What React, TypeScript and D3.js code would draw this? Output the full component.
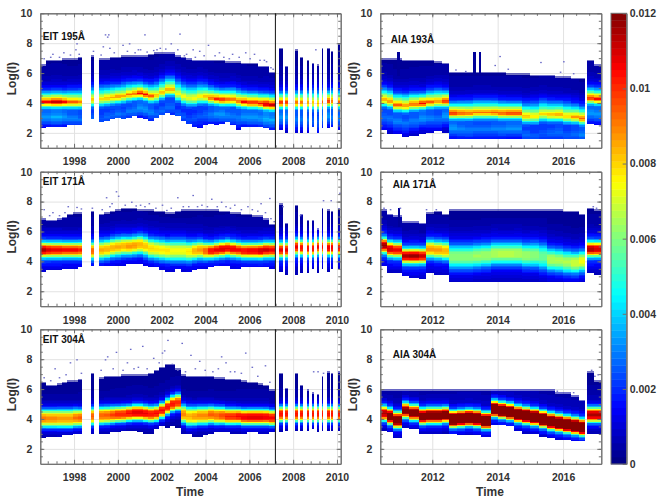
import React, { useRef, useEffect } from "react";
import * as d3 from "d3";

// column start / end years, EIT panels
const eitStart = [1996.46, 1996.7, 1996.95, 1997.2, 1997.45, 1997.7, 1997.95, 1998.2, 1998.76,
  1999.13, 1999.38, 1999.63, 1999.88, 2000.13, 2000.38, 2000.63, 2000.88, 2001.13, 2001.38, 2001.63, 2001.88,
  2002.13, 2002.38, 2002.63, 2002.88, 2003.13, 2003.38, 2003.63, 2003.88, 2004.13, 2004.38, 2004.63, 2004.88,
  2005.13, 2005.38, 2005.63, 2005.88, 2006.13, 2006.38, 2006.63, 2006.88,
  2007.36, 2007.62, 2008.09, 2008.33, 2008.64, 2008.88, 2009.11, 2009.31, 2009.54, 2009.75, 2010.05];
const eitEnd = [1996.7, 1996.95, 1997.2, 1997.45, 1997.7, 1997.95, 1998.2, 1998.38, 1998.91,
  1999.38, 1999.63, 1999.88, 2000.13, 2000.38, 2000.63, 2000.88, 2001.13, 2001.38, 2001.63, 2001.88, 2002.13,
  2002.38, 2002.63, 2002.88, 2003.13, 2003.38, 2003.63, 2003.88, 2004.13, 2004.38, 2004.63, 2004.88, 2005.13,
  2005.38, 2005.63, 2005.88, 2006.13, 2006.38, 2006.63, 2006.88, 2007.18,
  2007.53, 2007.76, 2008.21, 2008.46, 2008.72, 2008.94, 2009.19, 2009.37, 2009.69, 2009.84, 2010.16];

// column start / end years, AIA panels
const aiaStart = [2010.41, 2010.6, 2010.8, 2011.07, 2011.3, 2011.59, 2011.8, 2012.05, 2012.3,
  2012.51, 2012.75, 2013.0, 2013.25, 2013.5, 2013.8, 2014.0, 2014.25, 2014.5, 2014.75, 2015.0, 2015.25, 2015.5, 2015.75, 2016.0, 2016.25, 2016.5,
  2016.73, 2016.95];
const aiaEnd = [2010.6, 2010.8, 2011.07, 2011.3, 2011.59, 2011.8, 2012.05, 2012.3, 2012.51,
  2012.75, 2013.0, 2013.25, 2013.5, 2013.8, 2014.0, 2014.25, 2014.5, 2014.75, 2015.0, 2015.25, 2015.5, 2015.75, 2016.0, 2016.25, 2016.5, 2016.67,
  2016.95, 2017.15];

// EIT 195
const eit195Top = [6.6, 6.9, 6.9, 6.9, 7.0, 7.0, 7.0, 7.1, 7.2,
  7.0, 7.0, 7.1, 7.1, 7.2, 7.2, 7.2, 7.2, 7.2, 7.3, 7.4, 7.4, 7.4, 7.4, 7.2, 7.1,
  7.0, 6.9, 6.9, 6.9, 6.9, 6.9, 6.9, 6.8, 6.8, 6.8, 6.7, 6.7, 6.7, 6.5, 6.5, 6.1,
  7.7, 6.5, 7.6, 7.1, 6.9, 6.7, 6.6, 7.7, 7.7, 7.5, 8.0];
const eit195Bottom = [2.3, 2.35, 2.4, 2.4, 2.4, 2.5, 2.5, 2.5, 2.9,
  2.7, 2.8, 2.9, 3.0, 2.9, 3.0, 3.1, 3.0, 2.9, 2.8, 3.0, 3.2, 3.3, 3.2, 3.1, 2.8,
  2.6, 2.4, 2.3, 2.5, 2.6, 2.5, 2.6, 2.7, 2.5, 2.2, 2.4, 2.4, 2.4, 2.4, 2.3, 2.2,
  2.2, 2.0, 2.0, 2.0, 2.0, 2.4, 2.0, 2.3, 2.3, 2.4, 2.2];
const eit195Center = [4.05, 4.05, 4.05, 4.05, 4.05, 4.05, 4.05, 4.05, 4.2,
  4.25, 4.3, 4.35, 4.4, 4.45, 4.55, 4.6, 4.65, 4.55, 4.45, 4.5, 4.7, 4.9, 4.9, 4.6, 4.4,
  4.3, 4.3, 4.4, 4.4, 4.3, 4.25, 4.2, 4.2, 4.2, 4.1, 4.05, 4.0, 4.0, 3.95, 3.9, 3.85,
  4.0, 4.0, 4.0, 4.0, 4.0, 4.0, 3.95, 4.05, 4.1, 4.1, 4.05];
const eit195Peak = [0.0105, 0.0105, 0.0112, 0.0112, 0.0105, 0.0095, 0.0095, 0.009, 0.0085,
  0.008, 0.0085, 0.0085, 0.009, 0.0085, 0.0092, 0.0095, 0.0105, 0.0105, 0.0095, 0.0085, 0.0085, 0.0088, 0.0088, 0.0078, 0.0078,
  0.0075, 0.0078, 0.008, 0.0085, 0.0095, 0.0102, 0.0105, 0.0098, 0.0095, 0.0095, 0.0105, 0.0105, 0.0105, 0.0105, 0.0115, 0.0112,
  0.0105, 0.0105, 0.0095, 0.0095, 0.009, 0.0085, 0.0085, 0.0095, 0.0105, 0.0095, 0.0095];
const eit195Specks = [[1999.4, 8.6], [1999.55, 8.6], [1999.5, 8.45], [1999.3, 7.8], [1999.6, 7.7], [2000.2, 7.9], [2000.5, 8.0], [2001.2, 8.6], [2001.0, 7.6],
  [2002.4, 8.0], [2002.8, 8.65], [2004.1, 7.9], [2003.4, 7.6], [1998.1, 8.0], [1997.0, 7.3], [1997.5, 7.4], [2001.9, 7.7], [2002.7, 7.6], [2005.2, 7.3],
  [2006.2, 7.3], [2005.8, 7.4], [2004.6, 7.4], [2003.7, 7.5], [2000.9, 7.6], [2009.0, 7.6], [1998.85, 7.5], [1998.05, 7.6], [2006.65, 6.9], [2003.1, 7.3], [2001.6, 7.55],
  [1996.6, 7.0], [1996.9, 7.1], [1997.3, 7.1], [1997.8, 7.25], [1998.2, 7.3], [1999.2, 7.25], [1999.8, 7.4], [2000.4, 7.5], [2000.75, 7.4], [2001.3, 7.45],
  [2001.75, 7.6], [2002.15, 7.65], [2002.5, 7.4], [2003.0, 7.2], [2003.5, 7.1], [2003.9, 7.2], [2004.4, 7.2], [2004.8, 7.1], [2005.05, 7.0], [2005.5, 7.1],
  [2006.0, 7.0], [2006.45, 6.9], [2006.75, 6.8], [2006.95, 6.4], [2007.05, 6.3]];

// EIT 171
const eit171Top = [6.9, 6.8, 6.8, 6.9, 7.0, 7.2, 7.3, 7.3, 7.4,
  7.2, 7.3, 7.4, 7.5, 7.6, 7.6, 7.6, 7.5, 7.5, 7.5, 7.4, 7.4, 7.3, 7.3, 7.4, 7.5,
  7.5, 7.5, 7.5, 7.5, 7.5, 7.5, 7.4, 7.4, 7.3, 7.3, 7.2, 7.2, 7.1, 7.1, 6.9, 6.5,
  7.9, 6.6, 7.8, 7.2, 6.8, 6.8, 6.2, 7.6, 7.5, 7.4, 7.6];
const eit171Bottom = [3.3, 3.4, 3.4, 3.4, 3.5, 3.5, 3.55, 3.6, 3.7,
  3.7, 3.7, 3.7, 3.7, 3.7, 3.8, 3.8, 3.8, 3.7, 3.6, 3.6, 3.4, 3.3, 3.3, 3.5, 3.3,
  3.3, 3.4, 3.5, 3.5, 3.6, 3.65, 3.7, 3.65, 3.45, 3.5, 3.6, 3.6, 3.6, 3.6, 3.6, 3.5,
  3.25, 3.1, 3.1, 3.2, 3.2, 3.5, 3.2, 3.5, 3.3, 3.5, 3.5];
const eit171Center = [4.75, 4.75, 4.75, 4.75, 4.75, 4.75, 4.75, 4.75, 4.7,
  4.75, 4.8, 4.9, 4.95, 5.0, 5.0, 5.05, 5.1, 5.0, 4.85, 4.8, 4.75, 4.7, 4.7, 4.7, 4.7,
  4.65, 4.7, 4.75, 4.7, 4.7, 4.75, 4.8, 4.85, 4.8, 4.75, 4.7, 4.7, 4.7, 4.7, 4.75, 4.75,
  4.75, 4.75, 4.95, 4.9, 4.85, 4.85, 4.95, 4.95, 4.9, 4.9, 4.9];
const eit171Peak = [0.0115, 0.011, 0.0108, 0.0108, 0.0105, 0.0105, 0.0105, 0.0102, 0.0095,
  0.0085, 0.0085, 0.0085, 0.0085, 0.0085, 0.0088, 0.0088, 0.0085, 0.0082, 0.008, 0.0078, 0.0078, 0.0078, 0.0075, 0.0075, 0.0075,
  0.0078, 0.0085, 0.0088, 0.0095, 0.0105, 0.0108, 0.011, 0.0108, 0.0108, 0.0105, 0.0105, 0.0108, 0.0108, 0.0112, 0.0112, 0.0108,
  0.0108, 0.0108, 0.0108, 0.0105, 0.0105, 0.0105, 0.0105, 0.0105, 0.0108, 0.0108, 0.0105];
const eit171Specks = [[2000.0, 8.4], [1999.9, 8.7], [1999.45, 8.3], [1999.7, 7.9], [2000.6, 8.0], [2001.4, 7.9], [2002.0, 7.8], [2002.7, 8.3], [2003.4, 8.45],
  [2004.25, 8.2], [2004.7, 8.0], [2006.9, 8.25], [2006.5, 7.9], [1997.7, 7.7], [1998.1, 7.65], [1997.0, 7.3], [2009.35, 8.1], [2010.1, 8.6], [2009.7, 8.1],
  [2003.8, 7.8], [2005.3, 7.8], [2005.9, 7.7], [2008.3, 7.1], [2001.0, 7.8], [1998.8, 7.6], [2007.5, 7.7], [2004.9, 7.7], [2002.4, 7.6],
  [1996.6, 7.5], [1996.85, 7.1], [1997.3, 7.1], [1997.55, 7.3], [1998.3, 7.55], [1999.25, 7.5], [1999.6, 7.7], [2000.3, 7.8], [2000.8, 7.75], [2001.2, 7.7],
  [2001.7, 7.6], [2002.2, 7.45], [2002.95, 7.7], [2003.2, 7.7], [2003.6, 7.7], [2004.05, 7.7], [2004.5, 7.7], [2005.1, 7.6], [2005.6, 7.5], [2006.1, 7.5],
  [2006.35, 7.4], [2006.7, 7.3], [2006.95, 6.9], [2007.1, 6.7]];

// EIT 304
const eit304Top = [6.5, 6.3, 6.3, 6.4, 6.5, 6.6, 6.6, 6.7, 7.1,
  6.8, 6.9, 6.9, 6.9, 7.0, 7.0, 7.0, 7.0, 7.0, 7.1, 7.3, 7.5, 7.7, 7.7, 7.4, 7.0,
  6.9, 6.9, 6.9, 6.9, 6.9, 6.8, 6.8, 6.7, 6.7, 6.7, 6.6, 6.5, 6.5, 6.4, 6.3, 6.0,
  7.1, 6.1, 7.1, 6.3, 6.0, 5.8, 5.7, 6.9, 7.2, 7.1, 7.2];
const eit304Bottom = [2.7, 2.8, 2.8, 2.8, 2.9, 2.9, 3.0, 3.0, 3.0,
  3.0, 3.05, 3.1, 3.15, 3.2, 3.2, 3.2, 3.1, 3.05, 3.05, 3.3, 3.5, 3.4, 3.5, 3.4, 3.0,
  3.0, 2.8, 2.8, 2.9, 3.0, 3.1, 3.1, 3.1, 3.0, 3.0, 3.0, 3.1, 3.1, 3.05, 3.05, 3.1,
  3.15, 3.2, 3.2, 3.2, 3.2, 3.3, 3.1, 3.2, 3.2, 3.2, 3.2];
const eit304Center = [4.0, 4.0, 4.0, 4.0, 4.0, 4.0, 4.05, 4.05, 4.15,
  4.2, 4.22, 4.25, 4.28, 4.3, 4.35, 4.4, 4.4, 4.35, 4.3, 4.35, 4.55, 4.8, 5.0, 5.1, 4.3,
  4.15, 4.15, 4.2, 4.2, 4.25, 4.2, 4.2, 4.15, 4.15, 4.15, 4.1, 4.1, 4.1, 4.1, 4.1, 4.05,
  4.3, 4.3, 4.3, 4.3, 4.3, 4.3, 4.3, 4.3, 4.3, 4.3, 4.3];
const eit304Peak = [0.0092, 0.009, 0.009, 0.0088, 0.0088, 0.0088, 0.0092, 0.0095, 0.0095,
  0.0095, 0.0095, 0.0098, 0.0102, 0.0102, 0.0105, 0.011, 0.011, 0.0108, 0.0105, 0.0105, 0.0105, 0.0105, 0.0105, 0.0102, 0.009,
  0.0085, 0.0088, 0.009, 0.009, 0.0095, 0.0095, 0.0098, 0.0102, 0.0102, 0.0105, 0.0108, 0.011, 0.011, 0.011, 0.0108, 0.0105,
  0.0105, 0.0105, 0.0105, 0.0105, 0.0105, 0.0105, 0.0105, 0.0105, 0.0105, 0.0105, 0.0105];
const eit304Specks = [[2001.1, 8.9], [2000.55, 8.7], [1999.9, 8.5], [2000.4, 7.8], [2002.25, 9.3], [2002.9, 9.1], [2002.1, 8.6], [2002.0, 8.45], [1999.5, 8.2],
  [1999.4, 8.0], [2003.3, 8.3], [2004.7, 8.2], [2005.8, 8.45], [1998.1, 8.0], [1997.8, 7.8], [1997.1, 7.4], [1996.6, 6.8], [2003.7, 7.9], [2004.9, 7.8],
  [2006.7, 7.6], [2006.1, 7.5], [2005.3, 7.2], [2009.1, 7.2], [2001.6, 8.1], [2000.9, 7.5], [2008.9, 7.2], [2009.35, 7.1],
  [1996.9, 6.6], [1997.3, 6.8], [1997.6, 7.0], [1998.3, 7.1], [1999.2, 7.3], [1999.75, 7.4], [2000.2, 7.3], [2000.7, 7.4], [2001.3, 7.4], [2001.85, 7.8],
  [2002.45, 7.7], [2002.7, 7.3], [2003.05, 7.2], [2003.5, 7.4], [2003.95, 7.3], [2004.3, 7.2], [2004.55, 7.4], [2005.1, 7.2], [2005.6, 7.1], [2006.35, 6.9], [2006.9, 6.5]];

// AIA 193
const aia193Top = [7.0, 7.0, 7.0, 6.9, 6.9, 6.9, 6.9, 6.8, 6.7,
  6.1, 6.1, 6.1, 6.1, 6.1, 6.1, 6.1, 6.0, 6.0, 6.0, 5.9, 5.9, 5.9, 5.8, 5.8, 5.7, 5.7, 6.9, 6.6];
const aia193Bottom = [2.2, 1.9, 1.9, 1.7, 1.8, 1.9, 2.0, 2.1, 2.0,
  1.6, 1.6, 1.6, 1.6, 1.6, 1.6, 1.6, 1.6, 1.6, 1.6, 1.6, 1.6, 1.6, 1.6, 1.6, 1.6, 1.6, 2.6, 2.5];
const aia193Center = [4.2, 4.1, 3.85, 3.8, 3.9, 3.95, 4.05, 4.1, 4.1,
  3.3, 3.3, 3.3, 3.35, 3.35, 3.35, 3.3, 3.3, 3.3, 3.1, 3.1, 3.25, 3.2, 3.2, 3.1, 3.05, 2.95, 4.3, 4.25];
const aia193Peak = [0.0088, 0.009, 0.0095, 0.009, 0.0095, 0.0105, 0.0095, 0.009, 0.0105,
  0.0105, 0.0098, 0.0095, 0.0092, 0.0092, 0.0095, 0.0098, 0.0102, 0.0102, 0.0085, 0.008, 0.008, 0.0085, 0.0088, 0.0082, 0.0088, 0.0095, 0.0105, 0.0105];
const aia193Specks = [[2014.05, 7.15], [2015.3, 6.75], [2016.0, 6.8], [2013.9, 6.55], [2014.3, 6.3], [2012.7, 6.25], [2015.9, 6.1], [2016.3, 6.0], [2013.0, 6.15]];
// single tall columns that stick out above the top edge: start, end, top
const aia193Spikes = [[2010.92, 2011.0, 7.4], [2013.25, 2013.34, 7.4], [2013.42, 2013.48, 7.4]];

// AIA 171
const aia171Top = [7.5, 7.2, 7.1, 6.7, 6.7, 6.6, 7.3, 7.4, 7.2,
  7.5, 7.5, 7.5, 7.5, 7.5, 7.5, 7.5, 7.5, 7.5, 7.5, 7.5, 7.5, 7.5, 7.5, 7.4, 7.4, 7.2, 7.6, 7.5];
const aia171Bottom = [3.7, 3.2, 3.2, 3.0, 2.9, 2.8, 3.2, 3.1, 3.1,
  2.6, 2.6, 2.6, 2.6, 2.6, 2.6, 2.6, 2.6, 2.6, 2.6, 2.6, 2.6, 2.6, 2.6, 2.6, 2.6, 2.6, 3.2, 3.1];
const aia171Center = [5.05, 4.8, 4.75, 4.35, 4.35, 4.35, 4.8, 4.75, 4.7,
  4.3, 4.3, 4.3, 4.35, 4.4, 4.5, 4.5, 4.5, 4.5, 4.4, 4.4, 4.3, 4.1, 4.05, 3.95, 3.9, 4.0, 4.8, 4.8];
const aia171Peak = [0.0118, 0.0112, 0.0108, 0.0115, 0.0118, 0.0112, 0.0088, 0.0088, 0.0085,
  0.0062, 0.0062, 0.0062, 0.0064, 0.0064, 0.0066, 0.0068, 0.0068, 0.0066, 0.0064, 0.0062, 0.0058, 0.0066, 0.0066, 0.0066, 0.007, 0.0074, 0.0115, 0.0112];
const aia171Specks = [[2010.5, 7.6], [2010.7, 7.5], [2011.0, 7.6], [2011.8, 7.5], [2012.1, 7.5], [2016.9, 7.7], [2017.0, 7.6]];
const aia171Spikes = [[2010.95, 2011.02, 7.6]];

// AIA 304
const aia304Top = [6, 6, 6, 6, 6, 6, 6, 6, 6,
  6, 6, 6, 6, 6, 6, 6, 6, 6, 6, 6, 6, 5.95, 5.85, 5.75, 5.6, 5.3, 7.2, 6.6];
const aia304Bottom = [3.2, 3.15, 2.7, 3.4, 3.3, 3.0, 3.05, 3.0, 3.0,
  2.95, 2.85, 2.85, 2.85, 2.75, 3.6, 3.6, 3.45, 3.2, 3.05, 2.95, 2.8, 2.7, 2.65, 2.6, 2.55, 2.45, 3.0, 3.0];
const aia304Center = [4.35, 4.15, 3.9, 4.55, 4.4, 4.15, 4.2, 4.2, 4.25,
  3.95, 4.0, 4.05, 4.0, 3.85, 4.65, 4.55, 4.45, 4.3, 4.2, 4.1, 3.95, 3.8, 3.7, 3.6, 3.5, 3.4, 4.25, 4.25];
const aia304Peak = [0.0115, 0.0135, 0.0135, 0.0125, 0.013, 0.0135, 0.0135, 0.0135, 0.013,
  0.0155, 0.0155, 0.0155, 0.0155, 0.0155, 0.0155, 0.0155, 0.0155, 0.0155, 0.0155, 0.0155, 0.0155, 0.0155, 0.0155, 0.0155, 0.0155, 0.0155, 0.0115, 0.0115];
const aia304Specks = [[2016.85, 7.3], [2017.05, 7.0], [2016.95, 6.9], [2016.3, 5.8], [2015.8, 5.9]];

// vertical density shape around the peak: log offset -> share of the peak
const shapeOffset195 = [-2.6, -1.8, -1.4, -1.0, -0.7, -0.5, -0.33, -0.18, 0, 0.2, 0.4, 0.6, 0.85, 1.2, 1.6, 2.2, 3.6];
const shapeShare195 = [0.04, 0.1, 0.22, 0.32, 0.26, 0.27, 0.45, 0.74, 1, 0.78, 0.58, 0.38, 0.2, 0.1, 0.06, 0.04, 0.02];
const shapeOffset171 = [-1.6, -1.0, -0.75, -0.5, -0.3, -0.15, 0, 0.15, 0.3, 0.5, 0.75, 1.1, 1.6, 3];
const shapeShare171 = [0.06, 0.14, 0.2, 0.42, 0.76, 0.95, 1, 0.95, 0.76, 0.42, 0.2, 0.1, 0.05, 0.02];
const shapeOffset304 = [-1.6, -1.1, -0.8, -0.6, -0.4, -0.2, 0, 0.2, 0.4, 0.6, 0.8, 1.1, 1.5, 3];
const shapeShare304 = [0.03, 0.06, 0.12, 0.24, 0.6, 0.92, 1, 0.93, 0.65, 0.32, 0.14, 0.06, 0.04, 0.02];

const eitMajorYears = [1998, 2000, 2002, 2004, 2006, 2008, 2010];
const aiaMajorYears = [2012, 2014, 2016];
const yMajor = [2, 4, 6, 8, 10];
const instrumentChange = 2007.19;

const colorbarTicks = [0, 0.002, 0.004, 0.006, 0.008, 0.01, 0.012];
const colorbarLabels = ["0", "0.002", "0.004", "0.006", "0.008", "0.01", "0.012"];
const jetStops = [0, 0.0015, 0.0045, 0.0075, 0.0105, 0.012];
const jetColors = ["#00007f", "#0000ff", "#00ffff", "#ffff00", "#ff0000", "#7f0000"];

const panels = [
  { title: "EIT 195Å", group: "eit", row: 0, xlabel: false, titleDx: 2.5, titleDy: 27, top: eit195Top, bottom: eit195Bottom, center: eit195Center, peak: eit195Peak, specks: eit195Specks, spikes: [], offset: shapeOffset195, share: shapeShare195 },
  { title: "EIT 171Å", group: "eit", row: 1, xlabel: false, titleDx: 2.5, titleDy: 13.7, top: eit171Top, bottom: eit171Bottom, center: eit171Center, peak: eit171Peak, specks: eit171Specks, spikes: [], offset: shapeOffset171, share: shapeShare171 },
  { title: "EIT 304Å", group: "eit", row: 2, xlabel: true, titleDx: 2.5, titleDy: 13.4, top: eit304Top, bottom: eit304Bottom, center: eit304Center, peak: eit304Peak, specks: eit304Specks, spikes: [], offset: shapeOffset304, share: shapeShare304 },
  { title: "AIA 193Å", group: "aia", row: 0, xlabel: false, titleDx: 10.5, titleDy: 30, top: aia193Top, bottom: aia193Bottom, center: aia193Center, peak: aia193Peak, specks: aia193Specks, spikes: aia193Spikes, offset: shapeOffset195, share: shapeShare195 },
  { title: "AIA 171Å", group: "aia", row: 1, xlabel: false, titleDx: 12.5, titleDy: 16.6, top: aia171Top, bottom: aia171Bottom, center: aia171Center, peak: aia171Peak, specks: aia171Specks, spikes: aia171Spikes, offset: shapeOffset171, share: shapeShare171 },
  { title: "AIA 304Å", group: "aia", row: 2, xlabel: true, titleDx: 12.5, titleDy: 29, top: aia304Top, bottom: aia304Bottom, center: aia304Center, peak: aia304Peak, specks: aia304Specks, spikes: [], offset: shapeOffset304, share: shapeShare304 },
];

export default function App() {
  const svgRef = useRef<SVGSVGElement>(null);

  useEffect(() => {
    const svg = d3.select(svgRef.current);
    svg.selectAll("*").remove();

    const font = "'Liberation Sans', Arial, sans-serif";
    const frame = "#6f6f6f";
    const ink = "#333";
    const rowTop = [13.3, 171.7, 329.3];
    const panelH = 134.5;
    const binH = 0.1;

    const jet = d3.scaleLinear<string>().domain(jetStops).range(jetColors).clamp(true);
    // colourbar has 64 flat levels
    const level = (v: number) => jet((Math.min(Math.floor((v / 0.012) * 64), 63) + 0.5) * (0.012 / 64));

    const blur = svg.append("defs").append("filter").attr("id", "soft")
      .attr("x", "-2%").attr("y", "-2%").attr("width", "104%").attr("height", "104%");
    blur.append("feGaussianBlur").attr("stdDeviation", "0.55 0.4");

    panels.forEach((p) => {
      const isEit = p.group === "eit";
      const x0 = isEit ? 40.3 : 380.3;
      const x1 = isEit ? 340.7 : 601.3;
      const w = x1 - x0;
      const g = svg.append("g").attr("transform", `translate(${x0},${rowTop[p.row]})`);

      const x = d3.scaleLinear().domain(isEit ? [1996.46, 2010.17] : [2010.41, 2017.17]).range([0, w]);
      const y = d3.scaleLinear().domain([1, 10]).range([panelH, 0]);
      const starts = isEit ? eitStart : aiaStart;
      const ends = isEit ? eitEnd : aiaEnd;
      const majors = isEit ? eitMajorYears : aiaMajorYears;
      const minors = isEit ? d3.range(1996.8, 2010.2, 0.4) : d3.range(2010.8, 2017.17, 0.4);
      const yMinor = d3.range(1.5, 10, 0.5);

      // Grid
      g.append("g").attr("transform", `translate(0,${panelH})`)
        .call(d3.axisBottom(x).tickValues(majors).tickSize(-panelH).tickFormat(() => ""))
        .call((a) => a.select(".domain").remove())
        .selectAll("line").attr("stroke", "#e2e2e2");
      g.append("g")
        .call(d3.axisLeft(y).tickValues(yMajor).tickSize(-w).tickFormat(() => ""))
        .call((a) => a.select(".domain").remove())
        .selectAll("line").attr("stroke", "#e2e2e2");

      // Density cells
      const shape = d3.scaleLinear().domain(p.offset).range(p.share).clamp(true);
      const cells = g.append("g").attr("filter", "url(#soft)").attr("shape-rendering", "crispEdges");
      starts.forEach((s, c) => {
        const spread = Math.max(1, 0.0105 / p.peak[c]);
        const rows = d3.range(Math.round(p.bottom[c] / binH), Math.round(p.top[c] / binH));
        rows.forEach((r, k) => {
          const logI = r * binH;
          const v = p.peak[c] * shape((logI + binH / 2 - p.center[c]) / spread);
          cells.append("rect")
            .attr("x", x(s))
            .attr("width", x(ends[c]) - x(s))
            .attr("y", y(logI + binH))
            .attr("height", y(logI) - y(logI + binH))
            .attr("fill", level(v))
            .attr("opacity", k === rows.length - 1 ? 0.55 : 1);
        });
      });
      p.spikes.forEach((sp) => {
        cells.append("rect")
          .attr("x", x(sp[0]))
          .attr("width", x(sp[1]) - x(sp[0]))
          .attr("y", y(sp[2]))
          .attr("height", y(p.top[0] - 1.2) - y(sp[2]))
          .attr("fill", "#00009a");
      });
      g.selectAll(".speck").data(p.specks).join("rect").attr("class", "speck")
        .attr("x", (d) => x(d[0]))
        .attr("y", (d) => y(d[1]))
        .attr("width", 1.6)
        .attr("height", 1.3)
        .attr("fill", "#6a6ac8");

      // Inward ticks on all four sides
      const inward = (a: any, len: number) => a.tickSizeInner(-len).tickSizeOuter(0).tickFormat(() => "");
      const styleTicks = (sel: any) => {
        sel.select(".domain").attr("stroke", frame);
        sel.selectAll("line").attr("stroke", frame);
      };
      [[minors, 2.5], [majors, 4]].forEach(([vals, len]: any) => {
        g.append("g").attr("transform", `translate(0,${panelH})`).call(inward(d3.axisBottom(x).tickValues(vals), len)).call(styleTicks);
        g.append("g").call(inward(d3.axisTop(x).tickValues(vals), len)).call(styleTicks);
      });
      [[yMinor, 2.5], [yMajor, 4]].forEach(([vals, len]: any) => {
        g.append("g").call(inward(d3.axisLeft(y).tickValues(vals), len)).call(styleTicks);
        g.append("g").attr("transform", `translate(${w},0)`).call(inward(d3.axisRight(y).tickValues(vals), len)).call(styleTicks);
      });

      // Tick labels
      const labelX = g.append("g").attr("transform", `translate(0,${panelH})`)
        .call(d3.axisBottom(x).tickValues(majors).tickSize(0).tickPadding(10).tickFormat(d3.format("d")));
      labelX.select(".domain").remove();
      const labelY = g.append("g")
        .call(d3.axisLeft(y).tickValues(yMajor).tickSize(0).tickPadding(8).tickFormat(d3.format("d")));
      labelY.select(".domain").remove();
      [labelX, labelY].forEach((l) => l.selectAll("text")
        .attr("font-family", font).attr("font-size", 10.5).attr("font-weight", "bold").attr("fill", ink));

      if (isEit) {
        g.append("line")
          .attr("x1", x(instrumentChange)).attr("x2", x(instrumentChange))
          .attr("y1", 0).attr("y2", panelH)
          .attr("stroke", "#111").attr("stroke-width", 1);
      }

      g.append("text")
        .attr("x", p.titleDx).attr("y", p.titleDy)
        .attr("font-family", font).attr("font-size", 10).attr("font-weight", "bold").attr("fill", "#111")
        .text(p.title);

      g.append("text")
        .attr("transform", `translate(${isEit ? -27 : -26.5},${panelH / 2 - 2}) rotate(-90)`)
        .attr("text-anchor", "middle").attr("dominant-baseline", "middle")
        .attr("font-family", font).attr("font-size", 12).attr("font-weight", "bold").attr("fill", ink)
        .text("Log(I)");

      if (p.xlabel) {
        g.append("text")
          .attr("x", isEit ? 149.7 : 109.7).attr("y", panelH + 32.5)
          .attr("text-anchor", "middle")
          .attr("font-family", font).attr("font-size", 12).attr("font-weight", "bold").attr("fill", ink)
          .text("Time");
      }
    });

    // Colourbar
    const bar = svg.append("g").attr("transform", "translate(611,13.3)");
    const barW = 15.7;
    const barH = 450.7;
    const cy = d3.scaleLinear().domain([0, 0.012]).range([barH, 0]);
    bar.selectAll("rect").data(d3.range(64)).join("rect")
      .attr("x", 0)
      .attr("width", barW)
      .attr("y", (d) => cy(((d + 1) * 0.012) / 64))
      .attr("height", barH / 64 + 0.4)
      .attr("fill", (d) => level(((d + 0.5) * 0.012) / 64));
    const barAxis = bar.append("g").attr("transform", `translate(${barW},0)`)
      .call(d3.axisRight(cy).tickValues(colorbarTicks).tickSizeInner(-4).tickSizeOuter(0).tickPadding(3)
        .tickFormat((_, k) => colorbarLabels[k]));
    barAxis.select(".domain").attr("stroke", frame);
    barAxis.selectAll("line").attr("stroke", frame);
    barAxis.selectAll("text")
      .attr("font-family", font).attr("font-size", 10.5).attr("font-weight", "bold").attr("fill", ink);
    bar.append("rect").attr("width", barW).attr("height", barH).attr("fill", "none").attr("stroke", frame);
  }, []);

  return <svg ref={svgRef} width={664} height={504} style={{ position: "absolute", left: 0, top: 0 }} />;
}
